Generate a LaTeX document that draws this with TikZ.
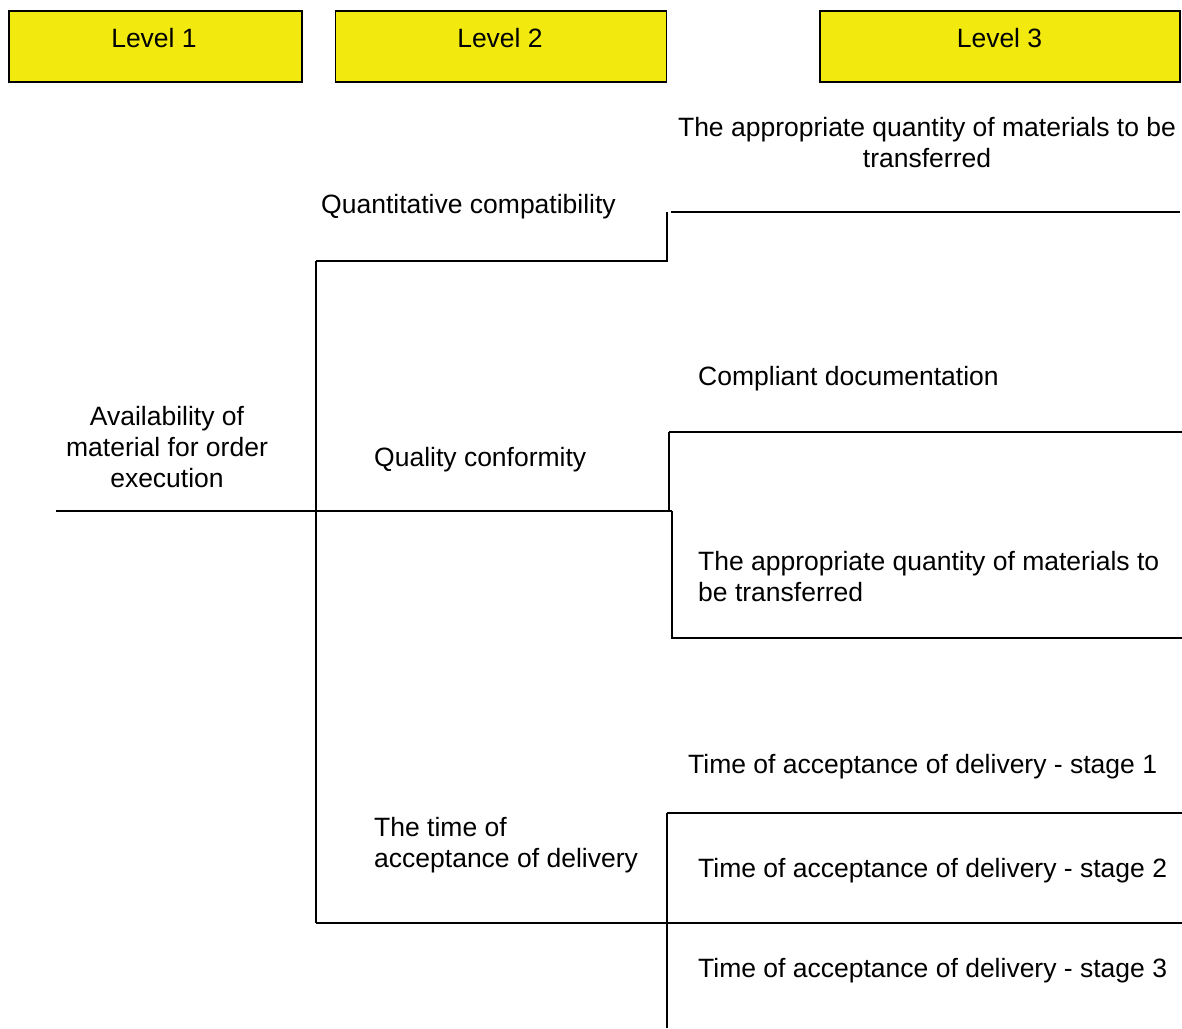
\documentclass[tikz,border=0pt]{standalone}
\usepackage{fontspec}
\setmainfont{Liberation Sans}
\definecolor{hdryellow}{RGB}{242,234,14}
\begin{document}
\begin{tikzpicture}[x=1pt,y=-1pt,
  every node/.style={font=\fontsize{26.5}{31}\selectfont, inner sep=0pt},
  hdr/.style={draw=black, line width=1.5pt, fill=hdryellow, minimum height=71pt},
  txtl/.style={anchor=base west, align=left},
  txtc/.style={anchor=base, align=center},
  conn/.style={line width=2.2pt, black}]
\useasboundingbox (0,0) rectangle (1182,1028);

% header boxes
\node[hdr, minimum width=293pt] (h1) at (155.5,46.5) {};
\node[anchor=base] (h1t) at (154,47) {Level 1};
\node[hdr, minimum width=331pt] (h2) at (501,46.5) {};
\node[anchor=base] (h2t) at (500,47) {Level 2};
\node[hdr, minimum width=360pt] (h3) at (1000,46.5) {};
\node[anchor=base] (h3t) at (999.5,47) {Level 3};

% texts (multi-line nodes: base = last line's baseline)
\node[txtc] (t31) at (927,167) {The appropriate quantity of materials to be\\transferred};
\node[txtl] (t2a) at (321,213) {Quantitative compatibility};
\node[txtl] (t32) at (698,385) {Compliant documentation};
\node[txtc] (t1) at (167,487) {Availability of\\material for order\\execution};
\node[txtl] (t2b) at (374,466) {Quality conformity};
\node[txtl] (t33) at (698,601) {The appropriate quantity of materials to\\be transferred};
\node[txtl] (t34) at (688,773) {Time of acceptance of delivery - stage 1};
\node[txtl] (t2c) at (374,867) {The time of\\acceptance of delivery};
\node[txtl] (t35) at (698,877) {Time of acceptance of delivery - stage 2};
\node[txtl] (t36) at (698,977) {Time of acceptance of delivery - stage 3};

% coordinates
\coordinate (r0) at (56,511);
\coordinate (jt) at (316,261);
\coordinate (jm) at (316,511);
\coordinate (jb) at (316,923);
\coordinate (a1) at (667,261);
\coordinate (a2) at (667,212);
\coordinate (a3) at (671,212);
\coordinate (a4) at (1180,212);
\coordinate (b1) at (672,511);
\coordinate (b2) at (669,511);
\coordinate (b3) at (669,432);
\coordinate (b4) at (1182,432);
\coordinate (b5) at (672,638);
\coordinate (b6) at (1182,638);
\coordinate (c1) at (667,923);
\coordinate (c2) at (667,813);
\coordinate (c3) at (667,1028);
\coordinate (c4) at (1182,813);
\coordinate (c5) at (1182,923);

% connectors
\draw[conn] (r0) -- (jm);
\draw[conn] (jt) -- (jb);
\draw[conn] (jt) -- (a1) -- (a2);
\draw[conn] (a3) -- (a4);
\draw[conn] (jm) -- (b1);
\draw[conn] (b3) -- (b2);
\draw[conn] (b3) -- (b4);
\draw[conn] (b1) -- (b5) -- (b6);
\draw[conn] (jb) -- (c1);
\draw[conn] (c2) -- (c3);
\draw[conn] (c2) -- (c4);
\draw[conn] (c1) -- (c5);
\end{tikzpicture}
\end{document}
